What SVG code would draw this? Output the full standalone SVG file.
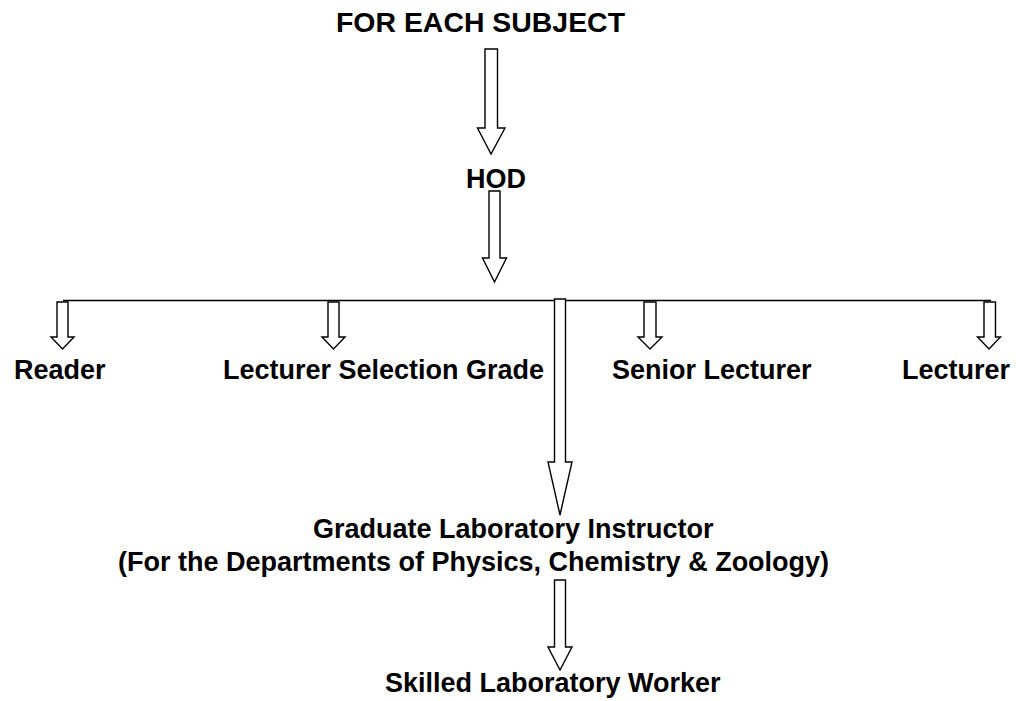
<svg xmlns="http://www.w3.org/2000/svg" width="1016" height="701" viewBox="0 0 1016 701">
<style>
text{font-family:"Liberation Sans",Arial,Helvetica,sans-serif;font-weight:bold;font-size:27px;fill:#000}
.arr{fill:#fff;stroke:#000;stroke-width:1.4;stroke-linejoin:miter}
.ln{stroke:#000;stroke-width:1.6;fill:none}
</style>
<rect width="1016" height="701" fill="#fff"/>
<g id="n-subject"><text x="336" y="32" font-size="28" textLength="289" lengthAdjust="spacingAndGlyphs">FOR EACH SUBJECT</text></g>
<g id="n-hod"><text x="496" y="188" text-anchor="middle">HOD</text></g>
<g id="n-reader"><text x="14" y="379">Reader</text></g>
<g id="n-lsg"><text x="223" y="379">Lecturer Selection Grade</text></g>
<g id="n-senior"><text x="612" y="379">Senior Lecturer</text></g>
<g id="n-lecturer"><text x="902" y="379">Lecturer</text></g>
<g id="n-gli"><text x="313" y="538">Graduate Laboratory Instructor</text><text x="118" y="571">(For the Departments of Physics, Chemistry &amp; Zoology)</text></g>
<g id="n-slw"><text x="385" y="692">Skilled Laboratory Worker</text></g>
<g id="connectors">
<path class="arr" d="M485,49 H497.5 V128 H505 L491,154 L477.5,128 H485 Z"/>
<path class="arr" d="M489,191 H500 V258 H506.5 L494.5,282 L482.5,258 H489 Z"/>
<line class="ln" x1="63" y1="300.5" x2="991" y2="300.5"/>
<path class="arr" d="M57,302 H68 V337 H74 L62.5,349 L51,337 H57 Z"/>
<path class="arr" d="M328,302 H339 V337 H345 L333.5,349 L322,337 H328 Z"/>
<path class="arr" d="M644,302 H656 V337 H662 L650,349 L638,337 H644 Z"/>
<path class="arr" d="M984,302 H995.5 V337 H1000.5 L989,349 L977.5,337 H984 Z"/>
<path class="arr" d="M554.5,299 H565.5 V462 H572 L560,515 L548,462 H554.5 Z"/>
<path class="arr" d="M554.5,580 H565.5 V647 H572 L560,670 L548,647 H554.5 Z"/>
</g>
</svg>
